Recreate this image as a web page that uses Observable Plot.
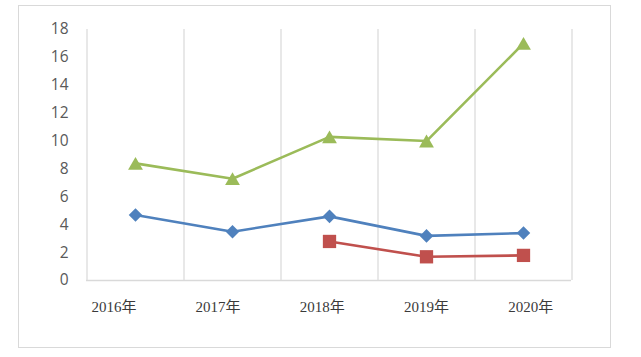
<!DOCTYPE html>
<html>
<head>
<meta charset="utf-8">
<script src="https://cdn.jsdelivr.net/npm/d3@7"></script>
<script src="https://cdn.jsdelivr.net/npm/@observablehq/plot@0.6"></script>
<style>
  html, body { margin: 0; padding: 0; background: #fff; }
  #wrap { position: relative; width: 641px; height: 357px; overflow: hidden; }
  #border { position: absolute; left: 18px; top: 5px; width: 591px; height: 341px; border: 1.5px solid #d9d9d9; box-sizing: content-box; pointer-events: none; }
  #chart { position: absolute; left: 0; top: 0; }
</style>
</head>
<body>
<div id="wrap"><div id="chart"></div><div id="border"></div></div>
<script>
const years = ["2016年", "2017年", "2018年", "2019年", "2020年"];
const seriesBlue = [4.7, 3.5, 4.6, 3.2, 3.4];
const seriesRed = [null, null, 2.8, 1.7, 1.8];
const seriesGreen = [8.4, 7.3, 10.3, 10.0, 17.0];
const yTicks = [0, 2, 4, 6, 8, 10, 12, 14, 16, 18];

const colors = { blue: "#4F81BD", red: "#C0504D", green: "#9BBB59" };

function toRows(values, key) {
  return years.map((year, i) => ({ year, value: values[i] == null ? NaN : values[i], key }));
}
const blueRows = toRows(seriesBlue, "blue");
const redRows = toRows(seriesRed, "red");
const greenRows = toRows(seriesGreen, "green");

const W = 641, H = 357, ML = 86, MR = 70, MT = 29, MB = 77;
const step = (W - ML - MR) / years.length;

const labelMarks = years.map((y, i) =>
  Plot.text([y], {
    x: d => d,
    frameAnchor: "bottom",
    dy: 26.5,
    dx: (i - 3) * 7.2,
    text: d => d,
    fontSize: 15,
    fill: "#3a3a3a",
    fontFamily: "'Liberation Serif', 'Noto Sans CJK SC', serif",
    lineAnchor: "middle"
  })
);

const chart = Plot.plot({
  width: W,
  height: H,
  marginLeft: ML,
  marginRight: MR,
  marginTop: MT,
  marginBottom: MB,
  style: { background: "transparent", fontFamily: "'Open Sans', 'Liberation Sans', sans-serif" },
  x: { type: "point", domain: years, padding: 0.5, axis: null },
  y: { domain: [0, 18], ticks: yTicks, label: null },
  marks: [
    Plot.ruleX(years, { x: d => d, dx: -step / 2, stroke: "#d9d9d9", strokeWidth: 1.2 }),
    Plot.ruleX([years[years.length - 1]], { x: d => d, dx: step / 2, stroke: "#d9d9d9", strokeWidth: 1.2 }),
    Plot.ruleY([0], { stroke: "#d9d9d9", strokeWidth: 1.5 }),
    Plot.axisY({ ticks: yTicks, tickSize: 0, tickPadding: 18, fontSize: 15.5, fill: "#595959", label: null }),
    Plot.line(blueRows, { x: "year", y: "value", stroke: colors.blue, strokeWidth: 2.6 }),
    Plot.line(redRows, { x: "year", y: "value", stroke: colors.red, strokeWidth: 2.6 }),
    Plot.line(greenRows, { x: "year", y: "value", stroke: colors.green, strokeWidth: 2.6 }),
    Plot.dot(blueRows, { x: "year", y: "value", symbol: "diamond2", r: 6.1, fill: colors.blue }),
    Plot.dot(redRows, { x: "year", y: "value", symbol: "square", r: 7.5, fill: colors.red }),
    Plot.dot(greenRows, { x: "year", y: "value", symbol: "triangle", r: 5.5, dy: 2.1, fill: colors.green }),
    ...labelMarks
  ]
});
document.getElementById("chart").appendChild(chart);
</script>
</body>
</html>
